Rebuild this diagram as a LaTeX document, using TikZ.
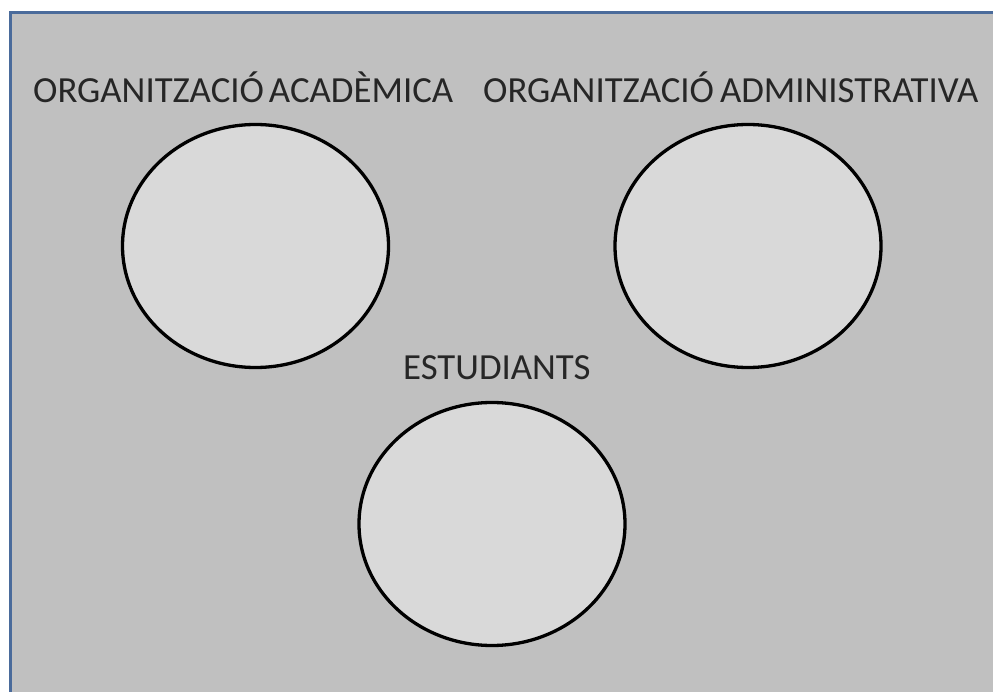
\documentclass[tikz,border=0pt]{standalone}
\usepackage{fontspec}
\setmainfont{Carlito}
\usetikzlibrary{shapes.geometric}
\definecolor{bggray}{HTML}{C0C0C0}
\definecolor{fillgray}{HTML}{D9D9D9}
\definecolor{frameblue}{HTML}{4A6B9B}
\tikzset{
  circ/.style={ellipse, draw=black, line width=3.3pt, fill=fillgray, minimum width=266pt, minimum height=243pt, inner sep=0pt, outer sep=0pt},
  lbl/.style={anchor=base west, inner sep=0pt, font=\fontsize{36.8}{40}\selectfont, text=black!85}
}
\begin{document}
\begin{tikzpicture}[x=1pt,y=-1pt]
\useasboundingbox (0,0) rectangle (993,692);
\fill[white] (0,0) rectangle (993,692);
\fill[bggray] (9,11) rectangle (993,692);
\draw[frameblue, line width=3.5pt] (10.5,692) -- (10.5,12.5) -- (993,12.5);
\node[lbl] (t1) at (33,103) {ORGANITZACIÓ\hspace{5pt}ACADÈMICA};
\node[lbl] (t2) at (483,103) {ORGANITZACIÓ\hspace{6pt}ADMINISTRATIVA};
\node[lbl] (t3) at (403,379) {ESTUDIANTS};
\node[circ] (c1) at (255.5,246) {};
\node[circ] (c2) at (748,246) {};
\node[circ] (c3) at (492,524) {};
\end{tikzpicture}
\end{document}
